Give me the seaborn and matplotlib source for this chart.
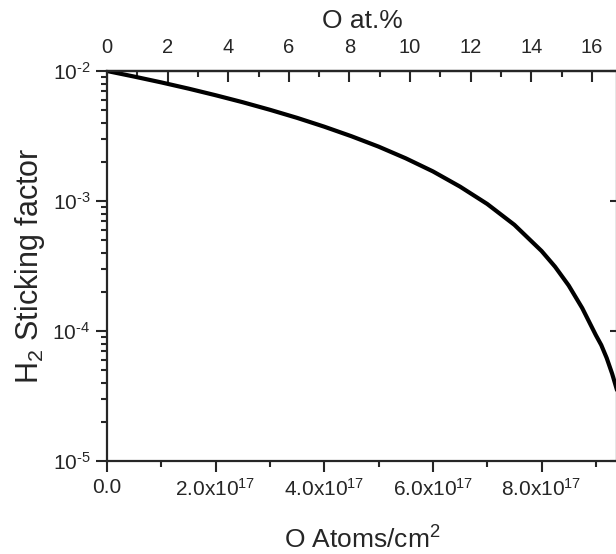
import numpy as np
import matplotlib
matplotlib.use('Agg')
import matplotlib.pyplot as plt
import seaborn as sns
from matplotlib.ticker import FixedLocator, NullLocator

# Data (O atoms/cm^2, H2 sticking factor)
o_atoms = [0.0, 0.5e17, 1.0e17, 1.5e17, 2.0e17, 2.5e17, 3.0e17, 3.5e17, 4.0e17,
           4.5e17, 5.0e17, 5.5e17, 6.0e17, 6.5e17, 7.0e17, 7.5e17, 8.0e17,
           8.25e17, 8.5e17, 8.75e17, 9.0e17, 9.1e17, 9.2e17, 9.3e17, 9.4e17]
sticking = [1.0e-2, 9.06e-3, 8.17e-3, 7.32e-3, 6.51e-3, 5.75e-3, 5.03e-3, 4.36e-3, 3.73e-3,
            3.15e-3, 2.62e-3, 2.13e-3, 1.69e-3, 1.29e-3, 9.49e-4, 6.56e-4, 4.13e-4,
            3.12e-4, 2.24e-4, 1.50e-4, 9.3e-5, 7.8e-5, 6.2e-5, 4.7e-5, 3.4e-5]

# Axis ticks
x_ticks = [0.0, 2e17, 4e17, 6e17, 8e17]
x_tick_labels = ['0.0', r'$\mathregular{2.0x10^{17}}$', r'$\mathregular{4.0x10^{17}}$',
                 r'$\mathregular{6.0x10^{17}}$', r'$\mathregular{8.0x10^{17}}$']
y_ticks = [1e-5, 1e-4, 1e-3, 1e-2]
y_tick_labels = [r'$\mathregular{10^{\text{-}5}}$', r'$\mathregular{10^{\text{-}4}}$',
                 r'$\mathregular{10^{\text{-}3}}$', r'$\mathregular{10^{\text{-}2}}$']
pct_ticks = [0, 2, 4, 6, 8, 10, 12, 14, 16]
pct_per_atom = 1.792 / 1e17

sns.set_style('ticks')
plt.rcParams['font.family'] = ['Liberation Sans', 'DejaVu Sans']
plt.rcParams['mathtext.fontset'] = 'custom'
plt.rcParams['mathtext.rm'] = 'Liberation Sans'
plt.rcParams['mathtext.it'] = 'Liberation Sans:italic'

fig = plt.figure(figsize=(6.16, 5.54), dpi=100)
ax = fig.add_axes([107 / 616, 93 / 554, 510 / 616, 390 / 554])

# Curve
sns.lineplot(x=o_atoms, y=sticking, color='black', linewidth=3, ax=ax)

ax.set_yscale('log')
ax.set_xlim(0, 9.39e17)
ax.set_ylim(1e-5, 1e-2)

# Bottom axis
ax.xaxis.set_major_locator(FixedLocator(x_ticks))
ax.set_xticklabels(x_tick_labels)
ax.xaxis.set_minor_locator(FixedLocator(np.arange(1e17, 9.5e17, 2e17)))
ax.tick_params(axis='x', which='major', direction='out', length=8, width=1.5,
               labelsize=15, pad=4, top=False)
ax.tick_params(axis='x', which='minor', direction='out', length=4, width=1.5, top=False)

# Left axis
ax.yaxis.set_major_locator(FixedLocator(y_ticks))
ax.set_yticklabels(y_tick_labels)
ax.tick_params(axis='y', which='major', direction='out', length=8, width=1.5,
               labelsize=15, pad=4, right=False)
ax.tick_params(axis='y', which='minor', direction='out', length=4, width=1.5, right=False)

for sp in ax.spines.values():
    sp.set_linewidth(1.6)
    sp.set_visible(True)

ax.set_xlabel(r'O Atoms/cm$^{2}$', fontsize=19, labelpad=19)
ax.set_ylabel(r'H$_{2}$ Sticking factor', fontsize=22, labelpad=4)

# Top axis in at.%
top = ax.secondary_xaxis('top', functions=(lambda v: v * pct_per_atom,
                                            lambda v: v / pct_per_atom))
top.xaxis.set_major_locator(FixedLocator(pct_ticks))
top.xaxis.set_minor_locator(FixedLocator(np.arange(1, 17, 2)))
top.tick_params(which='major', direction='in', length=8, width=1.5, labelsize=14.5, pad=10)
top.tick_params(which='minor', direction='in', length=4, width=1.5)
top.spines['top'].set_linewidth(1.6)
top.set_xlabel('O at.%', fontsize=19, labelpad=7)

# Right axis with inward ticks only
right = ax.secondary_yaxis('right')
right.yaxis.set_major_locator(FixedLocator(y_ticks))
right.yaxis.set_minor_locator(NullLocator())
right.tick_params(which='major', direction='in', length=5, width=1.5, labelright=False)
right.spines['right'].set_linewidth(1.6)

fig.savefig('out.png', dpi=100)
